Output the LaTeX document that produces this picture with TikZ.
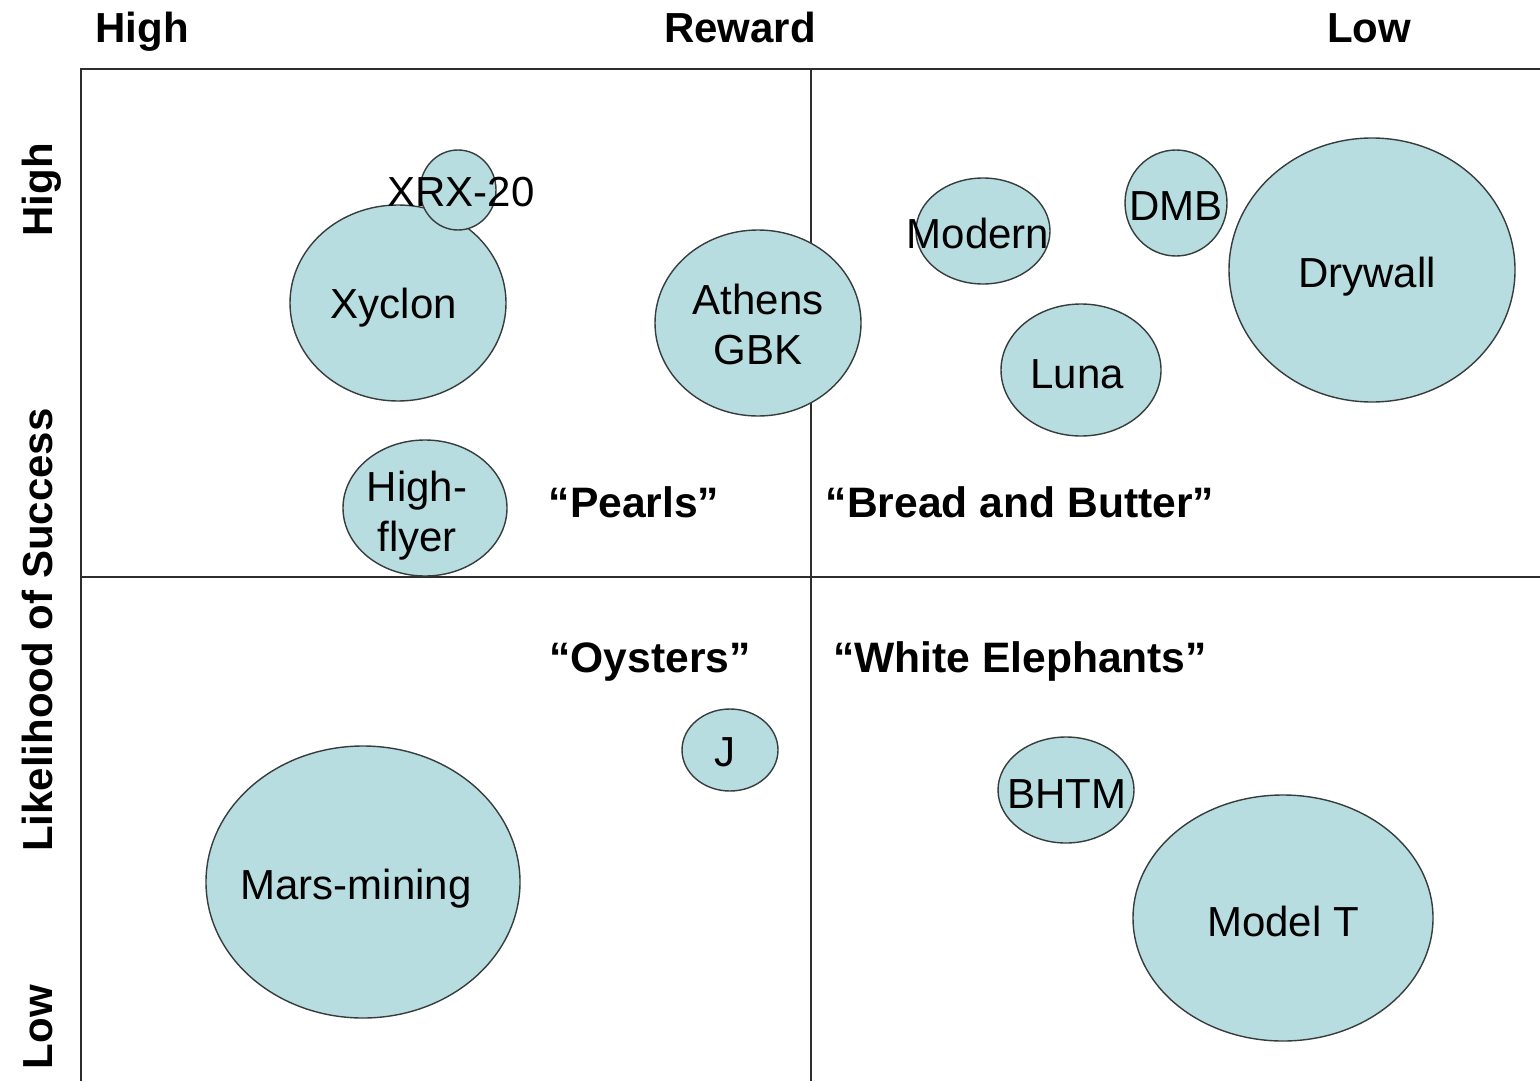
\documentclass[tikz,border=0pt]{standalone}
\usepackage{fontspec}
\setmainfont{Liberation Sans}
\usetikzlibrary{shapes.geometric}
\definecolor{bubblefill}{RGB}{183,221,224}
\definecolor{bubbleline}{RGB}{55,60,60}
\definecolor{gridline}{RGB}{45,45,45}
\begin{document}
\begin{tikzpicture}[x=0.5pt,y=-0.5pt,
  bubble/.style={ellipse, draw=bubbleline, line width=0.7pt, fill=bubblefill, inner sep=0pt},
  txt/.style={font=\fontsize{21}{25}\selectfont, align=center, inner sep=0pt, anchor=base},
  twoline/.style={font=\fontsize{21}{25}\selectfont, align=center, inner sep=0pt},
  heading/.style={font=\fontsize{21}{25}\selectfont\bfseries, inner sep=0pt, anchor=base},
  quadrant/.style={font=\fontsize{21.3}{25}\selectfont\bfseries, inner sep=0pt, anchor=base}]
\useasboundingbox (0,0) rectangle (1540,1081);
\fill[white] (0,0) rectangle (1540,1081);

% axes frame and quadrant dividers
\coordinate (fbl) at (81,1081);
\coordinate (ftl) at (81,69);
\coordinate (ftr) at (1540,69);
\coordinate (vtop) at (811,69);
\coordinate (vbot) at (811,1081);
\coordinate (hl) at (81,577);
\coordinate (hr) at (1540,577);
\draw[gridline, line width=1pt] (fbl) -- (ftl) -- (ftr);
\draw[gridline, line width=1pt] (vtop) -- (vbot);
\draw[gridline, line width=1pt] (hl) -- (hr);

% axis headings
\node[heading] (rhigh) at (142,43) {High};
\node[heading] (reward) at (740,43) {Reward};
\node[heading] (rlow) at (1369,43) {Low};
\node[heading, rotate=90] (lhigh) at (52,190) {High};
\node[heading, rotate=90] (likelihood) at (52,630) {Likelihood of Success};
\node[heading, rotate=90] (llow) at (52,1027) {Low};

% quadrant names
\node[quadrant] (pearls) at (634,517) {“Pearls”};
\node[quadrant] (bread) at (1020,517) {“Bread and Butter”};
\node[quadrant] (oysters) at (650,672) {“Oysters”};
\node[quadrant] (elephants) at (1020,672) {“White Elephants”};

% project bubbles
\node[bubble, minimum width=108pt, minimum height=98pt] (xyclon) at (398,303) {};
\node[bubble, minimum width=38pt, minimum height=40pt] (xrx) at (458,190) {};
\node[bubble, minimum width=103pt, minimum height=93pt] (athens) at (758,323) {};
\node[bubble, minimum width=82pt, minimum height=68pt] (highflyer) at (425,508) {};
\node[bubble, minimum width=67pt, minimum height=53pt] (modern) at (983,231) {};
\node[bubble, minimum width=51pt, minimum height=53pt] (dmb) at (1176,203) {};
\node[bubble, minimum width=143pt, minimum height=132pt] (drywall) at (1372,270) {};
\node[bubble, minimum width=80pt, minimum height=66pt] (luna) at (1081,370) {};
\node[bubble, minimum width=48pt, minimum height=41pt] (j) at (730,750) {};
\node[bubble, minimum width=157pt, minimum height=136pt] (mars) at (363,882) {};
\node[bubble, minimum width=68pt, minimum height=53pt] (bhtm) at (1066,790) {};
\node[bubble, minimum width=150pt, minimum height=123pt] (modelt) at (1283,918) {};

% bubble labels
\node[txt] (xyclontxt) at (394,318) {Xyclon};
\node[txt] (xrxtxt) at (461,206) {XRX-20};
\node[twoline] (athenstxt) at (758,324) {Athens\\GBK};
\node[twoline] (highflyertxt) at (417,516) {High-\\flyer};
\node[txt] (moderntxt) at (978,248) {Modern};
\node[txt] (dmbtxt) at (1176,220) {DMB};
\node[txt] (drywalltxt) at (1367,287) {Drywall};
\node[txt] (lunatxt) at (1077,388) {Luna};
\node[txt] (jtxt) at (725,766) {J};
\node[txt] (marstxt) at (356,899) {Mars-mining};
\node[txt] (bhtmtxt) at (1067,808) {BHTM};
\node[txt] (modelttxt) at (1283,936) {Model T};
\end{tikzpicture}
\end{document}
